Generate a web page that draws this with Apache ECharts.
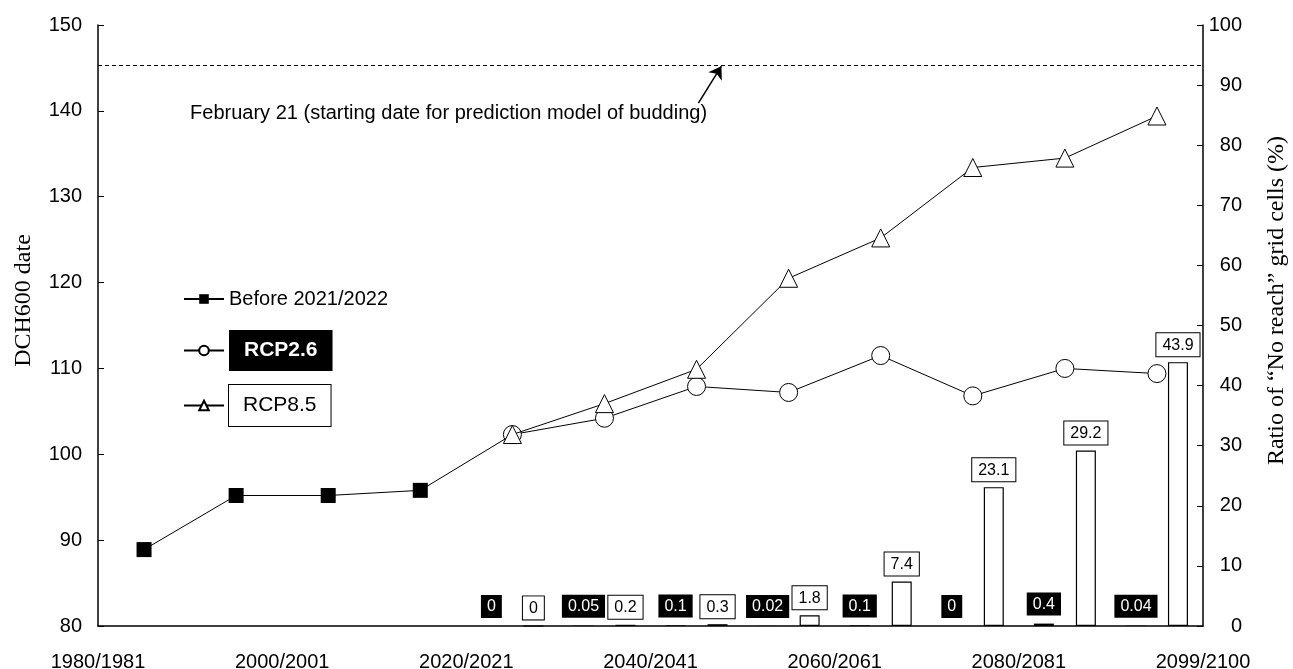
<!DOCTYPE html>
<html>
<head>
<meta charset="utf-8">
<title>DCH600 date</title>
<script src="https://cdn.jsdelivr.net/npm/echarts@6/dist/echarts.min.js"></script>
<style>
  html, body { margin: 0; padding: 0; background: #fff; }
  #chart { width: 1293px; height: 669px; }
</style>
</head>
<body>
<div id="chart"></div>
<script>
// one band per decade
const periods = ['1981-1990', '1991-2000', '2001-2010', '2011-2020', '2021-2030', '2031-2040',
  '2041-2050', '2051-2060', '2061-2070', '2071-2080', '2081-2090', '2091-2100']
const yearLabels = ['1980/1981', '2000/2001', '2020/2021', '2040/2041', '2060/2061', '2080/2081', '2099/2100']

// DCH600 date (left axis)
const beforeDates = [88.9, 95.2, 95.2, 95.8]
const rcp26Dates = [null, null, null, null, 102.3, 104.2, 107.9, 107.2, 111.5, 106.8, 110.0, 109.4]
const rcp85Dates = [null, null, null, null, 102.3, 105.9, 109.9, 120.5, 125.2, 133.4, 134.5, 139.4]

// ratio of "No reach" grid cells, % (right axis)
const rcp26NoReach = [null, null, null, null, 0, 0.05, 0.1, 0.02, 0.1, 0, 0.4, 0.04]
const rcp85NoReach = [null, null, null, null, 0, 0.2, 0.3, 1.8, 7.4, 23.1, 29.2, 43.9]

const budStartDate = 145.3 // February 21
const budNote = 'February 21 (starting date for prediction model of budding)'

const sans = 'Liberation Sans, Arial, sans-serif'
const serif = 'Liberation Serif, Times New Roman, serif'

// the observed line runs on into the first projected point
const beforeLine = periods.map((p, i) => {
  if (i < beforeDates.length) return beforeDates[i]
  if (i === beforeDates.length) return { value: rcp26Dates[i], symbol: 'none' }
  return null
})

const chart = echarts.init(document.getElementById('chart'))

chart.setOption({
  animation: false,
  grid: { left: 98, right: 90, top: 25, bottom: 43, outerBoundsMode: 'none' },
  legend: {
    orient: 'vertical',
    left: 178,
    top: 276,
    itemWidth: 40,
    itemHeight: 12,
    itemGap: 13,
    selectedMode: false,
    textStyle: { fontSize: 20, color: '#000', fontFamily: sans },
    data: [
      { name: 'Before 2021/2022', textStyle: { lineHeight: 36 } },
      {
        name: 'RCP2.6',
        textStyle: { fontSize: 21, fontWeight: 'bold', color: '#fff', backgroundColor: '#000', padding: [10, 15] }
      },
      {
        name: 'RCP8.5',
        textStyle: { fontSize: 21, color: '#000', backgroundColor: '#fff', borderColor: '#000', borderWidth: 1, padding: [10, 14] }
      }
    ]
  },
  xAxis: [{
    type: 'category',
    data: periods,
    position: 'bottom',
    axisLine: { onZero: false, lineStyle: { color: '#000', width: 1.5 } },
    axisTick: { inside: true, length: 6, interval: 0, lineStyle: { color: '#000' } },
    axisLabel: { show: false },
    splitLine: { show: false }
  }, {
    type: 'value',
    min: 0,
    max: 12,
    interval: 2,
    position: 'bottom',
    axisLine: { show: false },
    axisTick: { show: false },
    splitLine: { show: false },
    axisLabel: {
      margin: 26,
      fontSize: 20,
      color: '#000',
      fontFamily: sans,
      showMinLabel: true,
      showMaxLabel: true,
      formatter: v => yearLabels[v / 2]
    }
  }],
  yAxis: [{
    type: 'value',
    min: 80,
    max: 150,
    interval: 10,
    position: 'left',
    name: 'DCH600 date',
    nameLocation: 'middle',
    nameGap: 62,
    nameTextStyle: { fontFamily: serif, fontSize: 24, color: '#000', padding: [0, 0, 0, 50] },
    axisLine: { show: true, lineStyle: { color: '#000', width: 1.5 } },
    axisTick: { show: true, inside: true, length: 6, lineStyle: { color: '#000' } },
    axisLabel: { margin: 16, fontSize: 20, color: '#000', fontFamily: sans },
    splitLine: { show: false }
  }, {
    type: 'value',
    min: 0,
    max: 100,
    interval: 10,
    position: 'right',
    name: 'Ratio of \u201cNo reach\u201d grid cells (%)',
    nameLocation: 'middle',
    nameGap: 62,
    nameTextStyle: { fontFamily: serif, fontSize: 24, color: '#000', padding: [0, 0, 0, 50] },
    axisLine: { show: true, lineStyle: { color: '#000', width: 1.5 } },
    axisTick: { show: true, inside: true, length: 6, lineStyle: { color: '#000' } },
    axisLabel: { margin: 39, align: 'right', fontSize: 20, color: '#000', fontFamily: sans },
    splitLine: { show: false }
  }],
  series: [{
    name: 'RCP2.6 no reach',
    type: 'bar',
    yAxisIndex: 1,
    data: rcp26NoReach,
    barWidth: 20,
    barGap: '110%',
    itemStyle: { color: '#000' },
    label: {
      show: true,
      position: 'top',
      distance: 8,
      fontSize: 16,
      fontFamily: sans,
      color: '#fff',
      backgroundColor: '#000',
      padding: [4, 6, 3, 6]
    }
  }, {
    name: 'RCP8.5 no reach',
    type: 'bar',
    yAxisIndex: 1,
    data: rcp85NoReach,
    barWidth: 20,
    barGap: '110%',
    itemStyle: { color: '#fff', borderColor: '#000', borderWidth: 1.2 },
    label: {
      show: true,
      position: 'top',
      distance: 6,
      fontSize: 16,
      fontFamily: sans,
      color: '#000',
      backgroundColor: '#fff',
      borderColor: '#000',
      borderWidth: 1,
      padding: [4, 6, 3, 6]
    }
  }, {
    name: 'Before 2021/2022',
    type: 'line',
    data: beforeLine,
    symbol: 'rect',
    symbolSize: 15,
    itemStyle: { color: '#000' },
    lineStyle: { color: '#000', width: 1 },
    z: 5,
    markLine: {
      silent: true,
      symbol: 'none',
      label: { show: false },
      lineStyle: { color: '#000', width: 1, type: [4, 3] },
      data: [{ yAxis: budStartDate }]
    }
  }, {
    name: 'RCP2.6',
    type: 'line',
    data: rcp26Dates,
    symbol: 'circle',
    symbolSize: 18,
    itemStyle: { color: '#fff', borderColor: '#000', borderWidth: 1 },
    lineStyle: { color: '#000', width: 1 },
    z: 4
  }, {
    name: 'RCP8.5',
    type: 'line',
    data: rcp85Dates,
    symbol: 'triangle',
    symbolSize: 18,
    itemStyle: { color: '#fff', borderColor: '#000', borderWidth: 1 },
    lineStyle: { color: '#000', width: 1 },
    z: 5
  }, {
    // note and arrow pointing at the dashed line
    type: 'line',
    xAxisIndex: 1,
    data: [],
    silent: true,
    markLine: {
      silent: true,
      symbol: ['none', 'arrow'],
      symbolSize: 12,
      label: { show: false },
      lineStyle: { color: '#000', width: 1.5, type: 'solid' },
      data: [[{ coord: [6.52, 140.9] }, { coord: [6.77, 145.2] }]]
    },
    markPoint: {
      silent: true,
      symbol: 'circle',
      symbolSize: 0,
      label: {
        show: true,
        position: 'right',
        distance: 0,
        fontSize: 20,
        fontFamily: sans,
        color: '#000',
        formatter: budNote
      },
      data: [{ coord: [1.0, 139.7] }]
    }
  }]
})
</script>
</body>
</html>
